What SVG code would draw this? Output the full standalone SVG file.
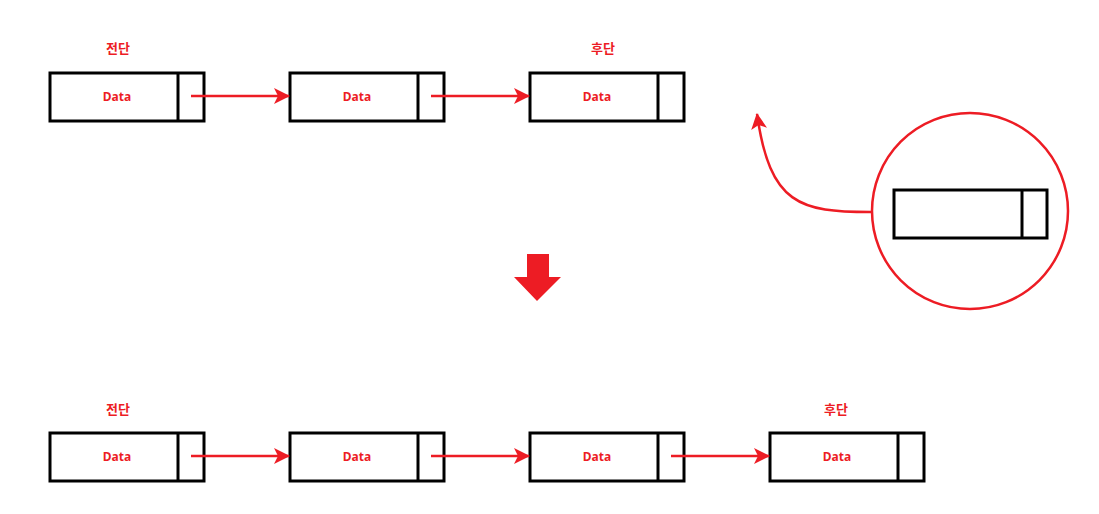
<svg xmlns="http://www.w3.org/2000/svg" width="1099" height="514" viewBox="0 0 1099 514">
<style>
.box{fill:#fff;stroke:#000;stroke-width:3}
.div{stroke:#000;stroke-width:3}
.con{stroke:#ed1c24;stroke-width:2.5;fill:none}
.data{font-family:"Noto Sans","Noto Sans CJK KR",sans-serif;font-weight:bold;font-size:12px;fill:#ed1c24;text-anchor:middle}
.lbl{font-family:"Noto Sans CJK KR","Noto Sans",sans-serif;font-weight:bold;font-size:13px;fill:#ed1c24;text-anchor:middle}
</style>
<defs>
<marker id="ah" viewBox="0 0 16 16" refX="15" refY="8" markerWidth="16" markerHeight="16" markerUnits="userSpaceOnUse" orient="auto">
<path d="M0,0 L16,8 L0,16 L4,8 Z" fill="#ed1c24"/>
</marker>
</defs>
<rect width="1099" height="514" fill="#fff"/>
<text class="lbl" x="118" y="53">전단</text>
<text class="lbl" x="603" y="53">후단</text>
<text class="lbl" x="118" y="414">전단</text>
<text class="lbl" x="836" y="414">후단</text>
<g id="t1"><rect class="box" x="50" y="73" width="154" height="48"/><line class="div" x1="178" y1="73" x2="178" y2="121"/><text class="data" x="117" y="101">Data</text></g>
<g id="t2"><rect class="box" x="290" y="73" width="154" height="48"/><line class="div" x1="418" y1="73" x2="418" y2="121"/><text class="data" x="357" y="101">Data</text></g>
<g id="t3"><rect class="box" x="530" y="73" width="154" height="48"/><line class="div" x1="658" y1="73" x2="658" y2="121"/><text class="data" x="597" y="101">Data</text></g>
<g id="b1"><rect class="box" x="50" y="433" width="154" height="48"/><line class="div" x1="178" y1="433" x2="178" y2="481"/><text class="data" x="117" y="461">Data</text></g>
<g id="b2"><rect class="box" x="290" y="433" width="154" height="48"/><line class="div" x1="418" y1="433" x2="418" y2="481"/><text class="data" x="357" y="461">Data</text></g>
<g id="b3"><rect class="box" x="530" y="433" width="154" height="48"/><line class="div" x1="658" y1="433" x2="658" y2="481"/><text class="data" x="597" y="461">Data</text></g>
<g id="b4"><rect class="box" x="770" y="433" width="154" height="48"/><line class="div" x1="898" y1="433" x2="898" y2="481"/><text class="data" x="837" y="461">Data</text></g>
<g id="zoom">
<circle cx="970" cy="211" r="98" fill="none" stroke="#ed1c24" stroke-width="2.5"/>
<rect class="box" x="894" y="190" width="153" height="48"/><line class="div" x1="1022" y1="190" x2="1022" y2="238"/>
</g>
<g id="down"><path d="M527,254 L549,254 L549,277 L561,277 L537,301 L514,277 L527,277 Z" fill="#ed1c24"/></g>
<g id="connectors">
<line class="con" x1="191" y1="96" x2="289" y2="96" marker-end="url(#ah)"/>
<line class="con" x1="431" y1="96" x2="529" y2="96" marker-end="url(#ah)"/>
<line class="con" x1="191" y1="456" x2="289" y2="456" marker-end="url(#ah)"/>
<line class="con" x1="431" y1="456" x2="529" y2="456" marker-end="url(#ah)"/>
<line class="con" x1="671" y1="456" x2="769" y2="456" marker-end="url(#ah)"/>
<path class="con" d="M871,212 C800,212 770,205 757,114" marker-end="url(#ah)"/>
</g>
</svg>
